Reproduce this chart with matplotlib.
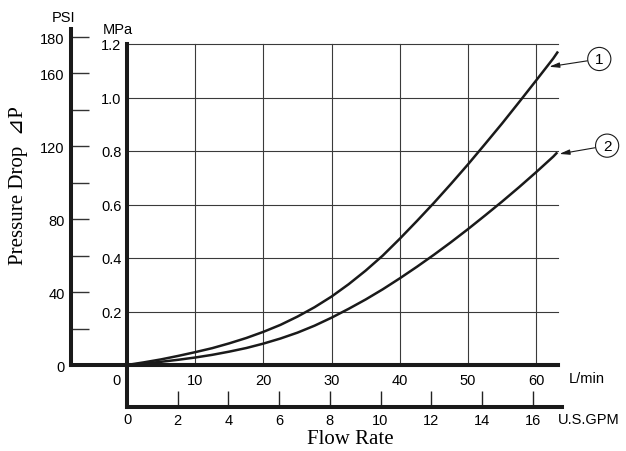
import matplotlib
matplotlib.use("Agg")
import matplotlib.pyplot as plt

# ---- data ----
flow1 = [0, 2.5, 5, 7.5, 10, 12.5, 15, 17.5, 20, 22.5, 25, 27.5, 30, 32.5, 35, 37.5,
         40, 42.5, 45, 47.5, 50, 52.5, 55, 57.5, 60, 62.5, 63.2]          # L/min
drop1 = [0, 0.010, 0.021, 0.034, 0.048, 0.063, 0.081, 0.101, 0.124, 0.150, 0.181,
         0.216, 0.256, 0.302, 0.353, 0.409, 0.472, 0.538, 0.606, 0.677, 0.750, 0.826,
         0.903, 0.983, 1.064, 1.146, 1.172]                                # MPa
flow2 = [0, 2.5, 5, 7.5, 10, 12.5, 15, 17.5, 20, 22.5, 25, 27.5, 30, 32.5, 35, 37.5,
         40, 42.5, 45, 47.5, 50, 52.5, 55, 57.5, 60, 62.5, 63.1]
drop2 = [0, 0.0055, 0.012, 0.0195, 0.028, 0.038, 0.050, 0.0635, 0.080, 0.099, 0.121,
         0.147, 0.177, 0.210, 0.245, 0.283, 0.324, 0.367, 0.412, 0.459, 0.508, 0.559,
         0.611, 0.665, 0.721, 0.779, 0.795]

lmin_ticks = [10, 20, 30, 40, 50, 60]
mpa_ticks = [0.2, 0.4, 0.6, 0.8, 1.0, 1.2]
mpa_labels = ["0.2", "0.4", "0.6", "0.8", "1.0", "1.2"]
psi_ticks = [0, 20, 40, 60, 80, 100, 120, 140, 160, 180]
psi_labels = ["0", "", "40", "", "80", "", "120", "", "160", "180"]
gpm_ticks = [2, 4, 6, 8, 10, 12, 14, 16]
gpm_labels = ["2", "4", "6", "8", "10", "12", "14", "16"]

W, H = 626, 452
fig = plt.figure(figsize=(W / 100, H / 100), dpi=100)
SANS = "Liberation Sans"
SERIF = ["Liberation Serif", "DejaVu Serif", "DejaVu Sans"]
FS = 10.5
INK = "#1a1a1a"
THICK = 2.9


def rect(l, r, t, b):
    return [l / W, 1 - b / H, (r - l) / W, (b - t) / H]


# PSI axis (behind)
axp = fig.add_axes(rect(71, 558, 30, 366))
axp.set_facecolor("none")
axp.set_ylim(0, 184.4)
axp.set_xlim(0, 1)
for s in ["top", "right"]:
    axp.spines[s].set_visible(False)
for s in ["left", "bottom"]:
    axp.spines[s].set_linewidth(THICK)
    axp.spines[s].set_color(INK)
axp.set_xticks([])
axp.set_yticks(psi_ticks)
axp.set_yticklabels(psi_labels, fontsize=FS, family=SANS)
axp.tick_params(axis="y", direction="in", length=13, width=1.0, color="#333333", pad=4.5)

# GPM axis
axg = fig.add_axes(rect(127, 562, 366, 408))
axg.set_facecolor("none")
axg.set_xlim(0, 435 / 25.35)
axg.set_ylim(0, 1)
for s in ["top", "right"]:
    axg.spines[s].set_visible(False)
for s in ["left", "bottom"]:
    axg.spines[s].set_linewidth(THICK)
    axg.spines[s].set_color(INK)
axg.set_yticks([])
axg.set_xticks(gpm_ticks)
axg.set_xticklabels(gpm_labels, fontsize=FS, family=SANS)
axg.tick_params(axis="x", direction="in", length=11.5, width=1.0, color="#222222", pad=4)
axg.text(0, -0.12, "0", transform=axg.get_xaxis_transform(), ha="center", va="top",
         fontsize=FS, family=SANS)

# main axes
ax = fig.add_axes(rect(127, 558, 45, 366))
ax.set_facecolor("none")
ax.set_xlim(0, 431 / 6.82)
ax.set_ylim(0, 1.2)
for s in ["top", "right"]:
    ax.spines[s].set_visible(False)
for s in ["left", "bottom"]:
    ax.spines[s].set_linewidth(THICK)
    ax.spines[s].set_color(INK)
ax.set_xticks(lmin_ticks)
ax.set_xticklabels([str(v) for v in lmin_ticks], fontsize=FS, family=SANS)
ax.set_yticks(mpa_ticks)
ax.set_yticklabels(mpa_labels, fontsize=FS, family=SANS)
ax.tick_params(length=0)
ax.tick_params(axis="x", pad=5.5)
ax.tick_params(axis="y", pad=4)
ax.grid(True, color="#3a3a3a", lw=0.8)
for gl in ax.get_ygridlines() + ax.get_xgridlines():
    gl.set_clip_on(False)
ax.text(-1.5, -0.025, "0", transform=ax.get_xaxis_transform(), ha="center", va="top",
        fontsize=FS, family=SANS)

ax.plot(flow1, drop1, color=INK, lw=1.8, solid_capstyle="butt", clip_on=False, zorder=5)
ax.plot(flow2, drop2, color=INK, lw=1.8, solid_capstyle="butt", clip_on=False, zorder=5)

ap = dict(arrowstyle="-|>,head_length=0.55,head_width=0.14", color=INK, lw=0.8,
          shrinkA=0, shrinkB=0)
bb = dict(boxstyle="circle,pad=0.3", fc="white", ec=INK, lw=0.8)
ax.annotate("1", xy=(61.9, 1.115), xytext=(69.25, 1.144), textcoords="data",
            ha="center", va="center", fontsize=11, family=SANS, bbox=bb,
            arrowprops=ap, annotation_clip=False)
ax.annotate("2", xy=(63.4, 0.789), xytext=(70.4, 0.82), textcoords="data",
            ha="center", va="center", fontsize=11, family=SANS, bbox=bb,
            arrowprops=ap, annotation_clip=False)

# unit and axis labels
def ftext(x, y, s, **kw):
    fig.text(x / W, 1 - y / H, s, **kw)

ftext(64, 18, "PSI", ha="center", va="center", fontsize=FS, family=SANS)
ftext(118, 30, "MPa", ha="center", va="center", fontsize=FS, family=SANS)
ftext(569, 379, "L/min", ha="left", va="center", fontsize=FS, family=SANS)
ftext(558, 420, "U.S.GPM", ha="left", va="center", fontsize=FS, family=SANS)
ftext(350, 440, "Flow Rate", ha="center", va="center", fontsize=15, family=SERIF)
ftext(19, 186, "Pressure Drop  \u22bfP", ha="center", va="center", fontsize=15,
      family=SERIF, rotation=90)

fig.savefig("out.png", dpi=100)
